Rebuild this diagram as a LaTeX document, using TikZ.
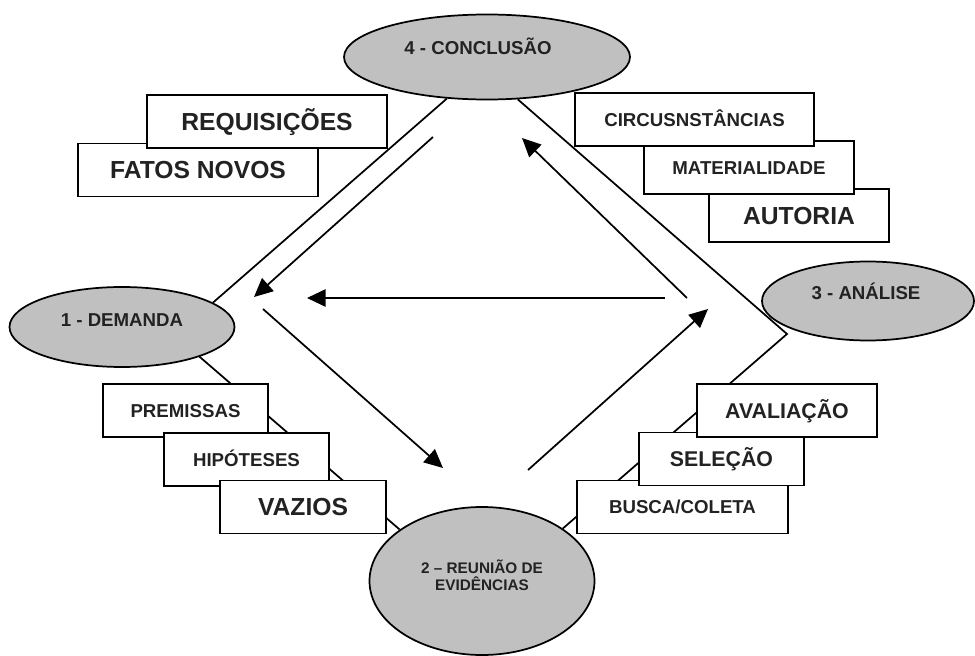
\documentclass[tikz,border=0pt]{standalone}
\usepackage{fontspec}
\setmainfont{Liberation Sans}
\usetikzlibrary{shapes.geometric,arrows.meta}

\definecolor{cinza}{HTML}{C0C0C0}
\definecolor{texto}{HTML}{222222}

\tikzstyle{fase} = [ellipse, draw, fill=cinza, line width=1.3pt, inner sep=0pt]
\tikzstyle{caixa} = [rectangle, draw, fill=white, line width=1.3pt, minimum height=39.75pt, inner sep=0pt, text=texto]
\tikzstyle{rotulo} = [text=texto, inner sep=0pt]
\tikzstyle{grande} = [font=\bfseries\fontsize{18.5}{20}\selectfont, text height=13.2pt, text depth=0pt]
\tikzstyle{media} = [font=\bfseries\fontsize{16}{18}\selectfont, text height=11.5pt, text depth=0pt]
\tikzstyle{normal} = [font=\bfseries\fontsize{14}{16}\selectfont, text height=10pt, text depth=0pt]
\tikzstyle{linha} = [line width=1.3pt]
\tikzstyle{seta} = [line width=1.3pt, -{Triangle[length=14pt,width=13pt]}]

\begin{document}
\begin{tikzpicture}[x=0.75pt, y=-0.75pt]
  \useasboundingbox (0,0) rectangle (975,656);

  % fases
  \node[fase, minimum width=214.5pt, minimum height=63.75pt] (concl) at (487,57) {};
  \node[fase, minimum width=168.75pt, minimum height=60pt] (dem) at (122,327) {};
  \node[fase, minimum width=168.75pt, minimum height=111pt] (reun) at (482,581) {};

  % losango
  \coordinate (canto) at (787,334);
  \draw[linha] (concl.226) -- (dem.15);
  \draw[linha] (dem.339) -- (reun.148);
  \draw[linha] (concl.306) -- (canto) -- (reun.33);

  \node[fase, minimum width=159pt, minimum height=59.25pt] (anal) at (868,301) {};

  % setas do ciclo
  \coordinate (s1) at (433,137);  \coordinate (t1) at (254,297);
  \coordinate (s2) at (665,298);  \coordinate (t2) at (307,298);
  \coordinate (s3) at (263,309);  \coordinate (t3) at (443,468);
  \coordinate (s4) at (528,470);  \coordinate (t4) at (708,309);
  \coordinate (s5) at (687,298);  \coordinate (t5) at (522,138);
  \draw[seta] (s1) -- (t1);
  \draw[seta] (s2) -- (t2);
  \draw[seta] (s3) -- (t3);
  \draw[seta] (s4) -- (t4);
  \draw[seta] (s5) -- (t5);

  % textos das fases
  \node[rotulo, normal] (conclT) at (478,48) {4 - CONCLUSÃO};
  \node[rotulo, normal] (demT) at (122,320) {1 - DEMANDA};
  \node[rotulo, normal] (analT) at (866,293) {3 - ANÁLISE};
  \node[rotulo, align=center, font=\bfseries\fontsize{11.5}{12.75}\selectfont] (reunT) at (482,575) {2 – REUNIÃO DE\\EVIDÊNCIAS};

  % caixas da conclusao
  \node[caixa, grande, minimum width=180pt] (fatos) at (198,170) {FATOS NOVOS};
  \node[caixa, grande, minimum width=180pt] (requi) at (267,121.5) {REQUISIÇÕES};

  % caixas da analise (de baixo para cima)
  \node[caixa, grande, minimum width=135pt] (autor) at (799,215.5) {AUTORIA};
  \node[caixa, normal, minimum width=157.5pt] (mater) at (749,167.5) {MATERIALIDADE};
  \node[caixa, normal, minimum width=179.25pt] (circ) at (694.5,119.5) {CIRCUSNSTÂNCIAS};

  % caixas da demanda
  \node[caixa, normal, minimum width=123.75pt] (prem) at (185.5,410.5) {PREMISSAS};
  \node[caixa, normal, minimum width=123.75pt] (hipo) at (246.5,459.5) {HIPÓTESES};
  \node[caixa, grande, minimum width=124.5pt] (vazio) at (303,507) {VAZIOS};

  % caixas da reuniao
  \node[caixa, normal, minimum width=158.25pt] (busca) at (682.5,507) {BUSCA/COLETA};
  \node[caixa, media, minimum width=123.75pt] (selec) at (721.5,459) {SELEÇÃO};
  \node[caixa, media, minimum width=135pt] (avali) at (787,410.5) {AVALIAÇÃO};
\end{tikzpicture}
\end{document}
